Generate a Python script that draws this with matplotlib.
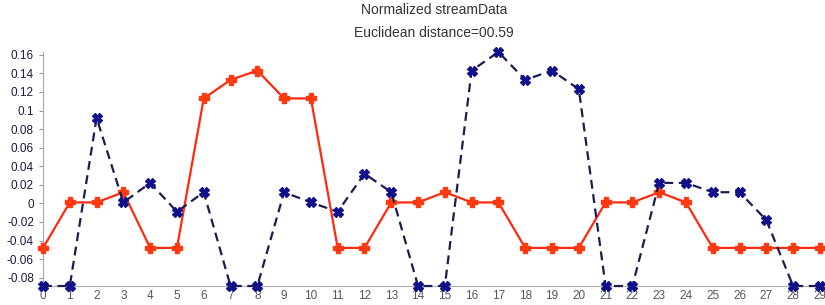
import matplotlib.pyplot as plt

plt.rcParams['font.family'] = ['Liberation Sans', 'DejaVu Sans']

x = list(range(30))
red_vals = [-0.048, 0.001, 0.001, 0.012, -0.048, -0.048, 0.113, 0.133, 0.143, 0.113,
            0.113, -0.048, -0.048, 0.001, 0.001, 0.012, 0.001, 0.001, -0.048, -0.048,
            -0.048, 0.001, 0.001, 0.012, 0.001, -0.048, -0.048, -0.048, -0.048, -0.048]
blue_vals = [-0.089, -0.089, 0.092, 0.001, 0.022, -0.009, 0.012, -0.089, -0.089, 0.012,
             0.001, -0.009, 0.032, 0.012, -0.089, -0.089, 0.143, 0.163, 0.133, 0.143,
             0.123, -0.089, -0.089, 0.022, 0.022, 0.012, 0.012, -0.018, -0.089, -0.089]
yticks = [-0.08, -0.06, -0.04, -0.02, 0, 0.02, 0.04, 0.06, 0.08, 0.1, 0.12, 0.14, 0.16]
ytick_labels = ["-0.08", "-0.06", "-0.04", "-0.02", "0", "0.02", "0.04", "0.06", "0.08",
                "0.1", "0.12", "0.14", "0.16"]

fig = plt.figure(figsize=(8.25, 3.05), dpi=100)
ax = fig.add_axes([43 / 825, 19 / 305, 782 / 825, 234 / 305])

ax.plot(x, red_vals, color='#ff2a10', lw=1.6, marker='P', ms=6.5, mec='#ff3a10',
        mfc='#ff3a10', clip_on=False, zorder=3)
ax.plot(x, blue_vals, color='#1c1c50', lw=1.6, ls=(0, (4, 2.5)), marker='X', ms=6.5,
        mfc='#10108a', mec='#10108a', clip_on=False, zorder=4)

ax.set_xlim(0, 29.19)
ax.set_ylim(-0.089, 0.163)
ax.set_xticks(x)
ax.set_yticks(yticks)
ax.set_yticklabels(ytick_labels)
ax.tick_params(axis='both', labelsize=8.5, colors='#999999', labelcolor='#1a1a40',
               length=3, width=0.8)
ax.tick_params(axis='x', length=0, pad=3, labelcolor='#555566')
for s in ['top', 'right']:
    ax.spines[s].set_visible(False)
ax.spines['left'].set_color('#aaaaaa')
ax.spines['bottom'].set_color('#b0b0b0')

fig.text(434 / 825, 1 - 10 / 305, "Normalized streamData", ha='center', va='center',
         fontsize=10, color='#333333')
fig.text(434 / 825, 1 - 33 / 305, "Euclidean distance=00.59", ha='center', va='center',
         fontsize=10, color='#333333')

fig.savefig("out.png", dpi=100)
